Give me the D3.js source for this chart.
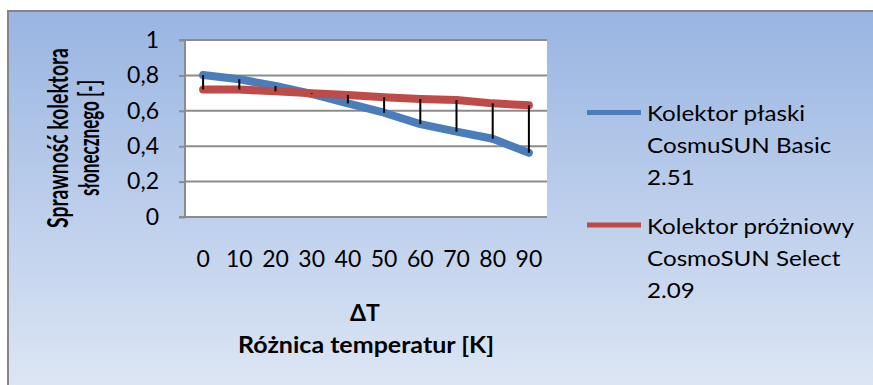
<!DOCTYPE html>
<html><head><meta charset="utf-8">
<script src="https://cdn.jsdelivr.net/npm/d3@7"></script>
<style>body{margin:0;background:#fff}svg{display:block}text{font-family:Lato,"Open Sans",sans-serif;fill:#000}</style>
</head><body><svg id="c" width="873" height="385"></svg>
<script>
const categories = ["0","10","20","30","40","50","60","70","80","90"];
const flatValues = [0.802,0.778,0.74,0.695,0.642,0.589,0.525,0.482,0.442,0.363];
const vacuumValues = [0.721,0.72,0.71,0.699,0.689,0.676,0.667,0.661,0.642,0.631];
const yTicks = [0,0.2,0.4,0.6,0.8,1];
const yTickLabels = ["0","0,2","0,4","0,6","0,8","1"];
const legendFlat = ["Kolektor płaski","CosmuSUN Basic","2.51"];
const legendVacuum = ["Kolektor próżniowy","CosmoSUN Select","2.09"];
const yTitle = ["Sprawność kolektora","słonecznego [-]"];
const xTitle = ["ΔT","Różnica temperatur [K]"];

const svg = d3.select("#c");
const defs = svg.append("defs");
const g = defs.append("linearGradient").attr("id","bg").attr("x1",0).attr("y1",0).attr("x2",0).attr("y2",1);
g.append("stop").attr("offset","0%").attr("stop-color","#99b5e2");
g.append("stop").attr("offset","100%").attr("stop-color","#dde6f4");
svg.append("rect").attr("x",8).attr("y",11).attr("width",870).attr("height",380)
  .attr("fill","url(#bg)").attr("stroke","#868686").attr("stroke-width",2);

const L=185,R=547,T=40,B=217;
const x = d3.scalePoint().domain(categories).range([L,R]).padding(0.5);
const y = d3.scaleLinear().domain([0,1]).range([B,T]);

function stretch(sel,k){ sel.each(function(){ const w=this.getComputedTextLength(); d3.select(this).attr("textLength",w*k).attr("lengthAdjust","spacingAndGlyphs");}); }
function fit(sel,w){ sel.attr("textLength",w).attr("lengthAdjust","spacingAndGlyphs"); }

svg.append("rect").attr("x",L).attr("y",T).attr("width",R-L).attr("height",B-T).attr("fill","#fff");
// gridlines
svg.append("g").selectAll("line").data(yTicks.slice(1)).join("line")
  .attr("x1",L).attr("x2",R).attr("y1",d=>y(d)).attr("y2",d=>y(d))
  .attr("stroke","#8c8c8c").attr("stroke-width",2);
// y axis
const ya = svg.append("g").attr("transform",`translate(${L},0)`)
  .call(d3.axisLeft(y).tickValues(yTicks).tickSize(6).tickPadding(10).tickFormat((d,i)=>yTickLabels[i]));
ya.select(".domain").attr("stroke","#8c8c8c").attr("stroke-width",2).attr("d",`M-6,${T}H0V${B}`);
ya.selectAll(".tick line").attr("stroke","#8c8c8c").attr("stroke-width",2);
ya.selectAll(".tick text").attr("font-size",23).attr("font-family","Lato,sans-serif").attr("dx",-10);
// x axis
svg.append("line").attr("x1",L-6).attr("x2",R).attr("y1",B).attr("y2",B).attr("stroke","#8c8c8c").attr("stroke-width",2);
svg.append("g").selectAll("text").data(categories).join("text")
  .attr("x",d=>x(d)).attr("y",267).attr("text-anchor","middle").attr("font-size",23).text(d=>d);

// lines
const line = d3.line().x((d,i)=>x(categories[i])).y(d=>y(d));
svg.append("path").datum(flatValues).attr("d",line).attr("fill","none").attr("stroke","#4a7ebb")
  .attr("stroke-width",8).attr("stroke-linecap","round").attr("stroke-linejoin","round");
svg.append("path").datum(vacuumValues).attr("d",line).attr("fill","none").attr("stroke","#be4b48")
  .attr("stroke-width",8).attr("stroke-linecap","round").attr("stroke-linejoin","round");
// high-low lines
svg.append("g").selectAll("line").data(categories).join("line")
  .attr("x1",d=>x(d)).attr("x2",d=>x(d))
  .attr("y1",(d,i)=>y(Math.max(flatValues[i],vacuumValues[i])))
  .attr("y2",(d,i)=>y(Math.min(flatValues[i],vacuumValues[i])))
  .attr("stroke","#000").attr("stroke-width",2);

// y title: each line scaled along its reading direction
[[yTitle[0],68,180],[yTitle[1],99,116]].forEach(([t,bx,len])=>{
  const el = svg.append("text").attr("text-anchor","middle").attr("font-weight","bold").attr("font-size",28).text(t);
  const w = el.node().getComputedTextLength();
  el.attr("transform",`translate(${bx},138) rotate(-90) scale(${len/w},1)`);
});
// x title
svg.append("text").attr("x",365).attr("y",321).attr("text-anchor","middle").attr("font-weight","bold").attr("font-size",23).text(xTitle[0]);
fit(svg.append("text").attr("x",366).attr("y",353).attr("text-anchor","middle").attr("font-weight","bold").attr("font-size",23).text(xTitle[1]),256);

// legend
function legend(lines,color,y0){
  svg.append("line").attr("x1",587).attr("x2",641).attr("y1",y0).attr("y2",y0).attr("stroke",color).attr("stroke-width",5);
  lines.forEach((t,i)=>stretch(svg.append("text").attr("x",647).attr("y",y0+8.5+i*32).attr("font-size",22).text(t),1.1));
}
legend(legendFlat,"#4a7ebb",112.5);
legend(legendVacuum,"#be4b48",225);
</script></body></html>
